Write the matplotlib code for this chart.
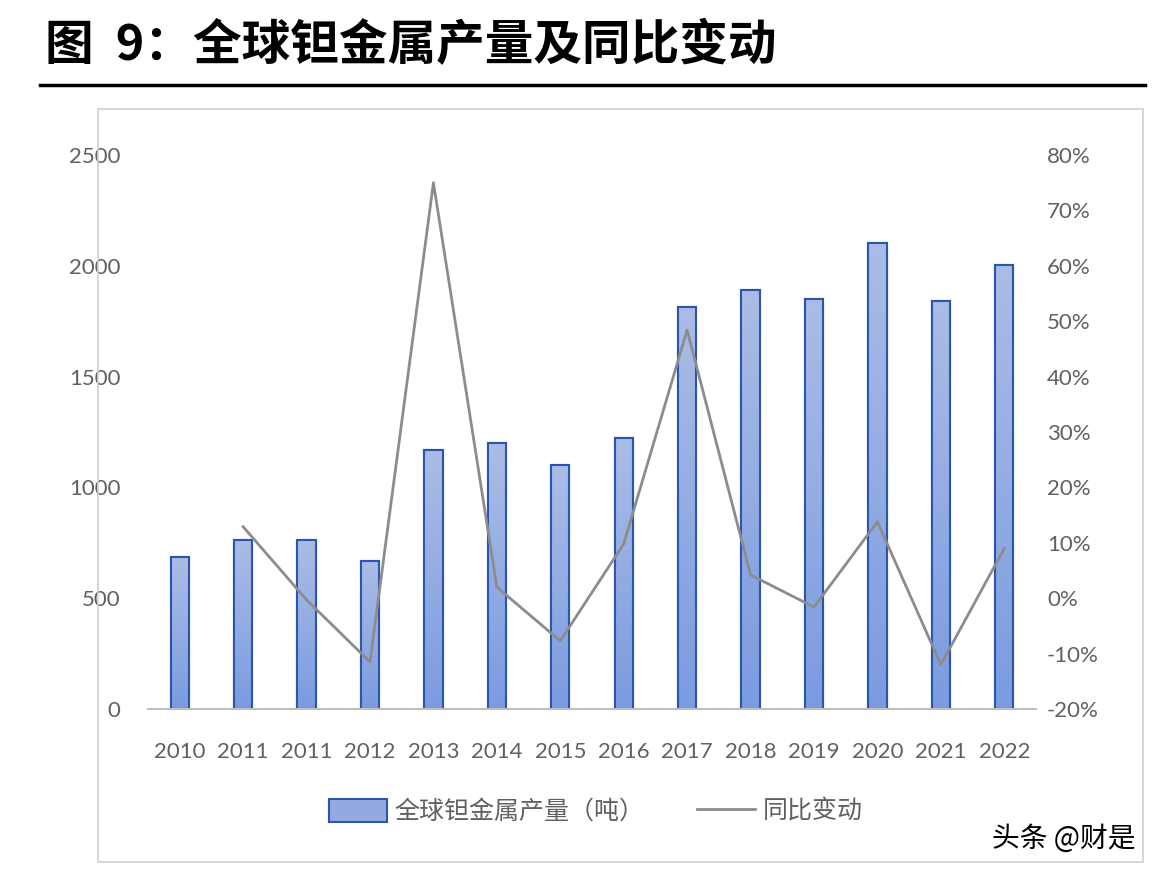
import numpy as np
import matplotlib
matplotlib.use("Agg")
import matplotlib.pyplot as plt
from matplotlib.ticker import FuncFormatter
from matplotlib.patches import Rectangle
from matplotlib.lines import Line2D
from matplotlib.colors import LinearSegmentedColormap

plt.rcParams['font.family'] = ['Lato', 'Noto Sans CJK SC', 'DejaVu Sans']

categories = ["2010", "2011", "2011", "2012", "2013", "2014", "2015", "2016",
              "2017", "2018", "2019", "2020", "2021", "2022"]
production = [685, 763, 763, 668, 1169, 1200, 1101, 1223, 1814, 1891, 1850, 2103, 1841, 2004]
yoy = [None, 12.9, -0.3, -11.5, 75.0, 2.0, -7.7, 9.8, 48.4, 4.2, -1.6, 13.8, -12.0, 9.0]

title = "图  9：全球钽金属产量及同比变动"
bar_label = "全球钽金属产量（吨）"
line_label = "同比变动"
watermark = "头条 @财是"

fig = plt.figure(figsize=(11.6, 8.8), dpi=100)
fig.patch.set_facecolor('white')

# title and rule
fig.text(45 / 1160, 1 - 46 / 880, title, fontsize=35, fontweight='black',
         family=['Noto Sans CJK SC'], ha='left', va='center', color='black')
fig.add_artist(Line2D([40 / 1160, 1145 / 1160], [1 - 85 / 880, 1 - 85 / 880],
                      color='black', lw=2.5, transform=fig.transFigure))
# chart frame
fig.add_artist(Rectangle((98 / 1160, 1 - 862 / 880), (1143 - 98) / 1160, (862 - 109) / 880,
                         transform=fig.transFigure, fill=False, edgecolor='#d0d0d0', lw=1.2))

ax = fig.add_axes([148 / 1160, 1 - 709 / 880, 888 / 1160, 554 / 880])
x = np.arange(len(categories))
bars = ax.bar(x, production, width=0.29, color='#93aae0', edgecolor='#2b55ae',
              linewidth=1.5, zorder=2)

# gradient fill in each bar
grad = np.linspace(0, 1, 256).reshape(-1, 1)
cmap = LinearSegmentedColormap.from_list('g', ['#7b9be0', '#abbde6'])
for b in bars:
    x0, y0 = b.get_x(), b.get_y()
    w, h = b.get_width(), b.get_height()
    im = ax.imshow(grad, extent=[x0, x0 + w, y0, y0 + h], origin='lower', cmap=cmap,
                   aspect='auto', zorder=2.1)
    im.set_clip_path(b)
    edge = Rectangle((x0, y0), w, h, fill=False, edgecolor='#2b55ae', lw=1.5, zorder=2.2)
    ax.add_patch(edge)

ax.set_xlim(-0.5, len(categories) - 0.5)
ax.set_ylim(0, 2500)
ax.set_yticks(np.arange(0, 2501, 500))
ax.set_xticks(x)
ax.set_xticklabels(categories)
for s in ['top', 'right', 'left']:
    ax.spines[s].set_visible(False)
ax.spines['bottom'].set_color('#bfbfbf')
ax.spines['bottom'].set_linewidth(1.5)
ax.tick_params(axis='both', length=0, labelsize=16, colors='#606060')
ax.tick_params(axis='y', pad=20)
ax.tick_params(axis='x', pad=24)

ax2 = ax.twinx()
xs = [xi for xi, v in zip(x, yoy) if v is not None]
vs = [v for v in yoy if v is not None]
ax2.plot(xs, vs, color='#8c8c8c', lw=2, zorder=3)
ax2.set_ylim(-20, 80)
ax2.set_yticks(np.arange(-20, 81, 10))
ax2.yaxis.set_major_formatter(FuncFormatter(lambda v, p: f"{int(round(v))}%"))
for s in ['top', 'right', 'left', 'bottom']:
    ax2.spines[s].set_visible(False)
ax2.tick_params(axis='y', length=0, labelsize=16, colors='#606060', pad=8)
ax.set_xlim(-0.5, len(categories) - 0.5)

handles = [Rectangle((0, 0), 1, 1, facecolor='#93aae0', edgecolor='#2b55ae', lw=1.5),
           Line2D([0], [0], color='#8c8c8c', lw=2)]
leg = fig.legend(handles, [bar_label, line_label], loc='center',
                 bbox_to_anchor=(596 / 1160, 1 - 812 / 880), ncol=2, frameon=False,
                 handlelength=2.3, handleheight=1.0, columnspacing=2.1,
                 handletextpad=0.33,
                 prop={'family': ['Noto Sans CJK SC'], 'size': 18, 'weight': 'light'})
for t in leg.get_texts():
    t.set_color('#606060')

fig.text(1135 / 1160, 1 - 839 / 880, watermark, fontsize=20, ha='right', va='center',
         family=['Noto Sans CJK SC'], color='black')

fig.savefig('out.png', dpi=100, facecolor='white')
